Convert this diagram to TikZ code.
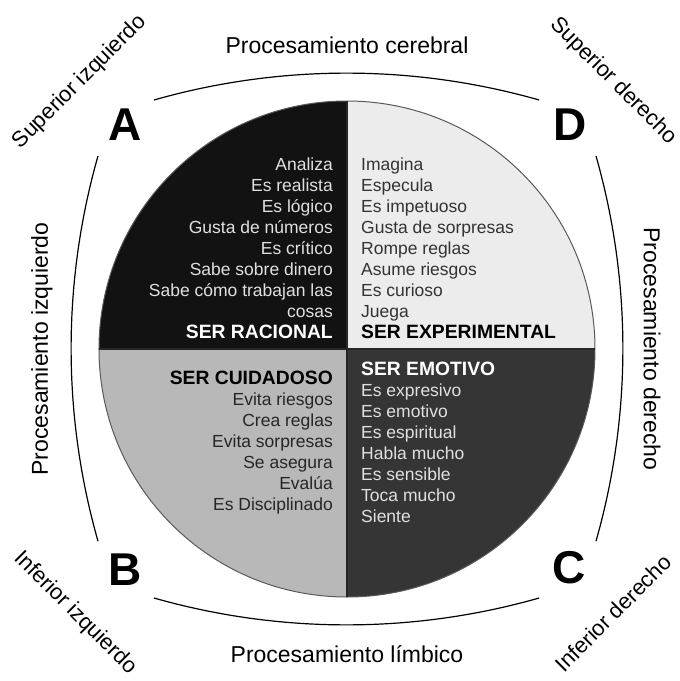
\documentclass[tikz,border=0pt]{standalone}
\usepackage{fontspec}
\setmainfont{Liberation Sans}
\usepackage{xcolor}
\usepackage{tikz}

\definecolor{quadA}{HTML}{121212}
\definecolor{quadB}{HTML}{B8B8B8}
\definecolor{quadC}{HTML}{353535}
\definecolor{quadD}{HTML}{ECECEC}

\begin{document}
\begin{tikzpicture}[
  x=1pt, y=1pt,
  item/.style={inner sep=0pt, font=\fontsize{17.5}{21}\selectfont},
  head/.style={inner sep=0pt, font=\fontsize{19.3}{21}\selectfont\bfseries},
  letter/.style={font=\fontsize{46}{46}\selectfont\bfseries},
  side/.style={font=\fontsize{23}{26}\selectfont},
  corner/.style={font=\fontsize{22}{26}\selectfont},
  bow/.style={line width=1.2pt}
]
\useasboundingbox (-347,-332) rectangle (333,349);

% Quadrants of the circle
\fill[quadA] (0,0) -- (-248,0) arc[start angle=180, end angle=90, radius=248] -- cycle;
\fill[quadD] (0,0) -- (0,248) arc[start angle=90, end angle=0, radius=248] -- cycle;
\fill[quadB] (0,0) -- (-248,0) arc[start angle=180, end angle=270, radius=248] -- cycle;
\fill[quadC] (0,0) -- (0,-248) arc[start angle=270, end angle=360, radius=248] -- cycle;
\draw[black!65, line width=1pt] (0,0) circle[radius=248];
\draw[black!85, line width=2pt] (-248,0) -- (248,0);
\draw[black!85, line width=2pt] (0,248) -- (0,-248);

% Quadrant A
\foreach \txt [count=\i] in {Analiza, Es realista, Es lógico, Gusta de números, Es crítico, Sabe sobre dinero, Sabe cómo trabajan las, cosas}
  \node[item, text=black!12, anchor=base east] (a\i) at (-14,200-21*\i) {\txt};
\node[head, text=white, anchor=base east] (headA) at (-14,11) {SER RACIONAL};

% Quadrant D
\foreach \txt [count=\i] in {Imagina, Especula, Es impetuoso, Gusta de sorpresas, Rompe reglas, Asume riesgos, Es curioso, Juega}
  \node[item, text=black!80, anchor=base west] (d\i) at (14,200-21*\i) {\txt};
\node[head, text=black, anchor=base west] (headD) at (14,11) {SER EXPERIMENTAL};

% Quadrant B
\node[head, text=black, anchor=base east] (headB) at (-14,-35) {SER CUIDADOSO};
\foreach \txt [count=\i] in {Evita riesgos, Crea reglas, Evita sorpresas, Se asegura, Evalúa, Es Disciplinado}
  \node[item, text=black!85, anchor=base east] (b\i) at (-14,-35-21*\i) {\txt};

% Quadrant C
\node[head, text=white, anchor=base west] (headC) at (14,-26) {SER EMOTIVO};
\foreach \txt [count=\i] in {Es expresivo, Es emotivo, Es espiritual, Habla mucho, Es sensible, Toca mucho, Siente}
  \node[item, text=black!12, anchor=base west] (c\i) at (14,-26-21*\i) {\txt};

% Letters
\node[letter] (letA) at (-222,224) {A};
\node[letter] (letD) at (223,224) {D};
\node[letter] (letB) at (-222,-221) {B};
\node[letter] (letC) at (222,-219) {C};

% Outer bows
\draw[bow] (-193,249) arc[start angle=105.9, end angle=74.1, radius=703];
\draw[bow] (-249,193) arc[start angle=164.1, end angle=195.9, radius=703];
\draw[bow] (249,193) arc[start angle=15.9, end angle=-15.9, radius=703];
\draw[bow] (-193,-249) arc[start angle=254.1, end angle=285.9, radius=703];

% Side labels
\node[side] (sideTop) at (0,304) {Procesamiento cerebral};
\node[side] (sideBottom) at (0,-305) {Procesamiento límbico};
\node[side, rotate=90] (sideLeft) at (-305,0) {Procesamiento izquierdo};
\node[side, rotate=-90] (sideRight) at (305,0) {Procesamiento derecho};

% Corner labels
\node[corner, rotate=45] (cornerA) at (-267,267) {Superior izquierdo};
\node[corner, rotate=-45] (cornerD) at (266,268) {Superior derecho};
\node[corner, rotate=-45] (cornerB) at (-272,-264) {Inferior izquierdo};
\node[corner, rotate=45] (cornerC) at (266,-264) {Inferior derecho};

\end{tikzpicture}
\end{document}
